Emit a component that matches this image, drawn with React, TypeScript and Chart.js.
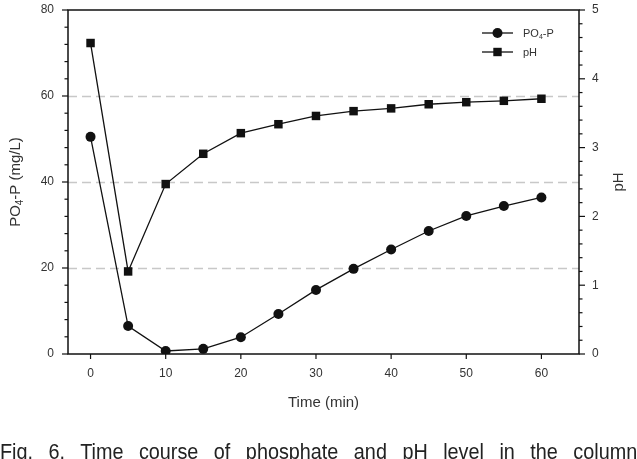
import React, { useEffect, useRef } from 'react';
import { Chart, registerables } from 'chart.js';
Chart.register(...registerables);

const timeMin = [0, 5, 10, 15, 20, 25, 30, 35, 40, 45, 50, 55, 60];
const po4P = [50.5, 6.5, 0.7, 1.2, 3.9, 9.3, 14.9, 19.8, 24.3, 28.6, 32.1, 34.4, 36.4];
const pHValues = [4.52, 1.2, 2.47, 2.91, 3.21, 3.34, 3.46, 3.53, 3.57, 3.63, 3.66, 3.68, 3.71];
const xTicks = [0, 10, 20, 30, 40, 50, 60];
const leftTicks = [0, 20, 40, 60, 80];
const rightTicks = [0, 1, 2, 3, 4, 5];
const dashedGrid = [20, 40, 60];
const captionText = 'Fig. 6. Time course of phosphate and pH level in the column';

const FONT = '"Liberation Sans", Arial, Helvetica, sans-serif';
const TEXT = '#333';

type Seg = { t: string; sub?: boolean };

function drawSegs(ctx: CanvasRenderingContext2D, segs: Seg[], x: number, y: number, size: number, align: 'center' | 'left') {
  const subSize = Math.round(size * 0.68);
  const widths = segs.map((s) => {
    ctx.font = `${s.sub ? subSize : size}px ${FONT}`;
    return ctx.measureText(s.t).width;
  });
  const total = widths.reduce((a, b) => a + b, 0);
  let cx = align === 'center' ? x - total / 2 : x;
  ctx.textAlign = 'left';
  ctx.textBaseline = 'alphabetic';
  segs.forEach((s, i) => {
    ctx.font = `${s.sub ? subSize : size}px ${FONT}`;
    ctx.fillText(s.t, cx, y + (s.sub ? size * 0.2 : 0) + size * 0.35);
    cx += widths[i];
  });
}

const sigmaPlugin = {
  id: 'sigmaFrame',
  beforeDatasetsDraw(chart: any) {
    const { ctx, chartArea: a, scales } = chart;
    ctx.save();
    ctx.strokeStyle = '#c8c8c8';
    ctx.lineWidth = 1.3;
    ctx.setLineDash([9, 5]);
    for (const v of dashedGrid) {
      const y = Math.round(scales.y.getPixelForValue(v)) + 0.5;
      ctx.beginPath();
      ctx.moveTo(a.left, y);
      ctx.lineTo(a.right, y);
      ctx.stroke();
    }
    ctx.restore();
  },
  afterDraw(chart: any) {
    const { ctx, chartArea: a, scales } = chart;
    const xs = scales.x, yl = scales.y, yr = scales.y1;
    ctx.save();
    ctx.strokeStyle = '#111';
    ctx.lineWidth = 1.5;
    ctx.setLineDash([]);
    ctx.strokeRect(a.left, a.top, a.right - a.left, a.bottom - a.top);
    ctx.lineWidth = 1.2;
    const tick = (x1: number, y1: number, x2: number, y2: number) => {
      ctx.beginPath();
      ctx.moveTo(x1, y1);
      ctx.lineTo(x2, y2);
      ctx.stroke();
    };
    for (let v = 0; v <= 80; v += 4) {
      const y = yl.getPixelForValue(v);
      const major = v % 20 === 0;
      tick(a.left, y, a.left - (major ? 6 : 3.5), y);
    }
    for (let i = 0; i <= 25; i++) {
      const v = i * 0.2;
      const y = yr.getPixelForValue(v);
      const major = i % 5 === 0;
      tick(a.right, y, a.right + (major ? 6 : 3.5), y);
    }
    for (const v of xTicks) {
      const x = xs.getPixelForValue(v);
      tick(x, a.bottom, x, a.bottom + 5);
    }
    ctx.fillStyle = TEXT;
    ctx.font = `15px ${FONT}`;
    ctx.textAlign = 'center';
    ctx.textBaseline = 'middle';
    ctx.fillText('Time (min)', (a.left + a.right) / 2, 403);
    ctx.save();
    ctx.translate(15, (a.top + a.bottom) / 2);
    ctx.rotate(-Math.PI / 2);
    drawSegs(ctx, [{ t: 'PO' }, { t: '4', sub: true }, { t: '-P (mg/L)' }], 0, 0, 15, 'center');
    ctx.restore();
    ctx.save();
    ctx.translate(618, (a.top + a.bottom) / 2);
    ctx.rotate(-Math.PI / 2);
    drawSegs(ctx, [{ t: 'pH' }], 0, 0, 15, 'center');
    ctx.restore();
    const legendRows = [
      { y: 33, style: 'circle', segs: [{ t: 'PO' }, { t: '4', sub: true }, { t: '-P' }] },
      { y: 52, style: 'rect', segs: [{ t: 'pH' }] },
    ];
    for (const r of legendRows) {
      ctx.strokeStyle = '#111';
      ctx.lineWidth = 1.3;
      tick(482, r.y, 513, r.y);
      ctx.fillStyle = '#111';
      if (r.style === 'circle') {
        ctx.beginPath();
        ctx.arc(497.5, r.y, 5, 0, Math.PI * 2);
        ctx.fill();
      } else {
        ctx.fillRect(497.5 - 4.2, r.y - 4.2, 8.4, 8.4);
      }
      ctx.fillStyle = TEXT;
      drawSegs(ctx, r.segs, 523, r.y, 11, 'left');
    }
    ctx.restore();
  },
};

export default function App() {
  const ref = useRef<HTMLCanvasElement>(null);
  useEffect(() => {
    document.body.style.margin = '0';
    const chart = new Chart(ref.current!, {
      type: 'line',
      data: {
        datasets: [
          {
            label: 'PO4-P',
            data: timeMin.map((t, i) => ({ x: t, y: po4P[i] })),
            yAxisID: 'y',
            borderColor: '#111',
            backgroundColor: '#111',
            borderWidth: 1.3,
            pointStyle: 'circle',
            pointRadius: 5,
            pointBorderWidth: 0,
            tension: 0,
          },
          {
            label: 'pH',
            data: timeMin.map((t, i) => ({ x: t, y: pHValues[i] })),
            yAxisID: 'y1',
            borderColor: '#111',
            backgroundColor: '#111',
            borderWidth: 1.3,
            pointStyle: 'rect',
            pointRadius: 6,
            pointBorderWidth: 0,
            tension: 0,
          },
        ],
      },
      options: {
        animation: false,
        responsive: false,
        devicePixelRatio: 1,
        layout: { padding: { top: 10, left: 0, right: 0, bottom: 0 } },
        plugins: { legend: { display: false }, tooltip: { enabled: false } },
        scales: {
          x: {
            type: 'linear',
            min: -3,
            max: 65,
            grid: { display: false },
            border: { display: false },
            afterBuildTicks: (s: any) => { s.ticks = xTicks.map((v) => ({ value: v })); },
            afterFit: (s: any) => { s.height = 105; s.paddingLeft = 0; s.paddingRight = 0; },
            ticks: { padding: 4, color: TEXT, font: { family: FONT, size: 12 }, maxRotation: 0 },
          },
          y: {
            type: 'linear',
            position: 'left',
            min: 0,
            max: 80,
            grid: { display: false },
            border: { display: false },
            afterBuildTicks: (s: any) => { s.ticks = leftTicks.map((v) => ({ value: v })); },
            afterFit: (s: any) => { s.width = 68; s.paddingTop = 0; s.paddingBottom = 0; },
            ticks: { padding: 6, color: TEXT, font: { family: FONT, size: 12 } },
          },
          y1: {
            type: 'linear',
            position: 'right',
            min: 0,
            max: 5,
            grid: { display: false },
            border: { display: false },
            afterBuildTicks: (s: any) => { s.ticks = rightTicks.map((v) => ({ value: v })); },
            afterFit: (s: any) => { s.width = 58; s.paddingTop = 0; s.paddingBottom = 0; },
            ticks: { padding: 5, color: TEXT, font: { family: FONT, size: 12 } },
          },
        },
      },
      plugins: [sigmaPlugin],
    } as any);
    return () => chart.destroy();
  }, []);
  return (
    <div style={{ position: 'relative', width: 637, height: 459, overflow: 'hidden', background: '#fff' }}>
      <canvas ref={ref} width={637} height={459} style={{ position: 'absolute', left: 0, top: 0, width: 637, height: 459 }} />
      <div
        style={{
          position: 'absolute',
          left: 0,
          top: 441,
          width: 708,
          fontFamily: FONT,
          fontSize: 22,
          lineHeight: '22px',
          color: '#222',
          textAlign: 'justify',
          textAlignLast: 'justify',
          transform: 'scale(0.9, 1)',
          transformOrigin: '0 0',
        }}
      >
        {captionText}
      </div>
    </div>
  );
}
